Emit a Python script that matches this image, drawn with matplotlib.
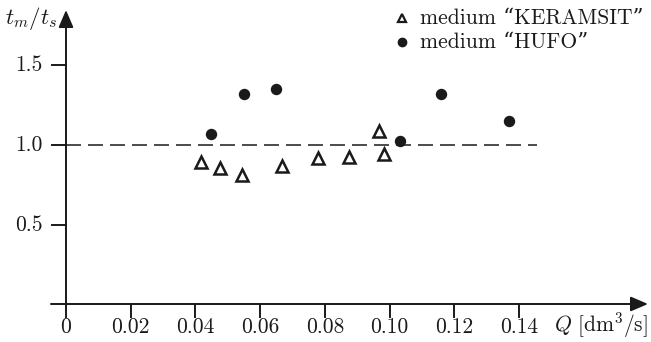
import matplotlib
matplotlib.use("Agg")
import matplotlib.pyplot as plt

# data
q_keramsit = [0.0417, 0.0476, 0.0544, 0.0668, 0.0779, 0.0875, 0.0968, 0.0983]
r_keramsit = [0.893, 0.856, 0.812, 0.869, 0.919, 0.925, 1.087, 0.944]
q_hufo = [0.0448, 0.0550, 0.0649, 0.1032, 0.1159, 0.1370]
r_hufo = [1.069, 1.319, 1.351, 1.024, 1.319, 1.149]

x_ticks = [0, 0.02, 0.04, 0.06, 0.08, 0.10, 0.12, 0.14]
x_labels = ["0", "0.02", "0.04", "0.06", "0.08", "0.10", "0.12", "0.14"]
y_ticks = [0.5, 1.0, 1.5]
y_labels = ["0.5", "1.0", "1.5"]

plt.rcParams['font.family'] = ['cmr10', 'DejaVu Serif']
plt.rcParams['mathtext.fontset'] = 'cm'
plt.rcParams['axes.unicode_minus'] = False

ink = '#1a1a1a'
fs = 15.5

fig = plt.figure(figsize=(6.51, 3.42), dpi=100)
ax = fig.add_axes([0, 0, 1, 1])
ax.set_axis_off()

# pixel scale: 0.02 per 64.7 px, 0.5 per 80 px; 1.0 sits at pixel row 145
sx = 0.02 / 64.7
sy = 0.5 / 80
ax.set_xlim(-66 * sx, 585 * sx)
ax.set_ylim(1.0 - 197 * sy, 1.0 + 145 * sy)

y_axis_row = 1.0 - (304 - 145) * sy

# axes with arrow heads
arrow = dict(arrowstyle='-|>,head_length=1.05,head_width=0.45', lw=1.4,
             color=ink, shrinkA=0, shrinkB=0, mutation_scale=10)
ax.annotate('', xy=(582 * sx, y_axis_row), xytext=(-15 * sx, y_axis_row),
            arrowprops=arrow)
ax.annotate('', xy=(0, 1.0 + 135 * sy), xytext=(0, y_axis_row),
            arrowprops=arrow)

# ticks
for x, lab in zip(x_ticks, x_labels):
    ax.plot([x, x], [y_axis_row, y_axis_row - 13 * sy], color=ink, lw=1.4)
    ax.text(x, 1.0 - (327 - 145) * sy, lab, ha='center', va='center',
            fontsize=fs, color=ink)
for y, lab in zip(y_ticks, y_labels):
    ax.plot([-14 * sx, 0], [y, y], color=ink, lw=1.4)
    ax.text(-23 * sx, y, lab, ha='right', va='center', fontsize=fs, color=ink)

# axis labels
ax.text(-9 * sx, 1.0 + 127 * sy, r'$t_m/t_s$', ha='right', va='center',
        fontsize=fs + 1, color=ink)
ax.text(582 * sx, 1.0 - (325 - 145) * sy, r'$Q\ [\mathrm{dm^3/s}]$',
        ha='right', va='center', fontsize=fs, color=ink)

# reference line
ax.plot([0, 0.1455], [1.0, 1.0], color=ink, lw=1.1,
        linestyle=(0, (9.8, 4.6)))

# data
ax.plot(q_keramsit, r_keramsit, linestyle='none', marker='^', ms=8,
        mfc='white', mec=ink, mew=1.8)
ax.plot(q_hufo, r_hufo, linestyle='none', marker='o', ms=7.2,
        mfc=ink, mec=ink)

# legend drawn by hand
ax.plot([336 * sx], [1.0 + 127 * sy], linestyle='none', marker='^', ms=6,
        mfc='white', mec=ink, mew=1.6)
ax.plot([336 * sx], [1.0 + 103 * sy], linestyle='none', marker='o', ms=6,
        mfc=ink, mec=ink)
ax.text(354 * sx, 1.0 + 127 * sy, 'medium \u201cKERAMSIT\u201d', ha='left',
        va='center', fontsize=fs, color=ink)
ax.text(354 * sx, 1.0 + 103 * sy, 'medium \u201cHUFO\u201d', ha='left',
        va='center', fontsize=fs, color=ink)

fig.savefig('out.png', dpi=100)
